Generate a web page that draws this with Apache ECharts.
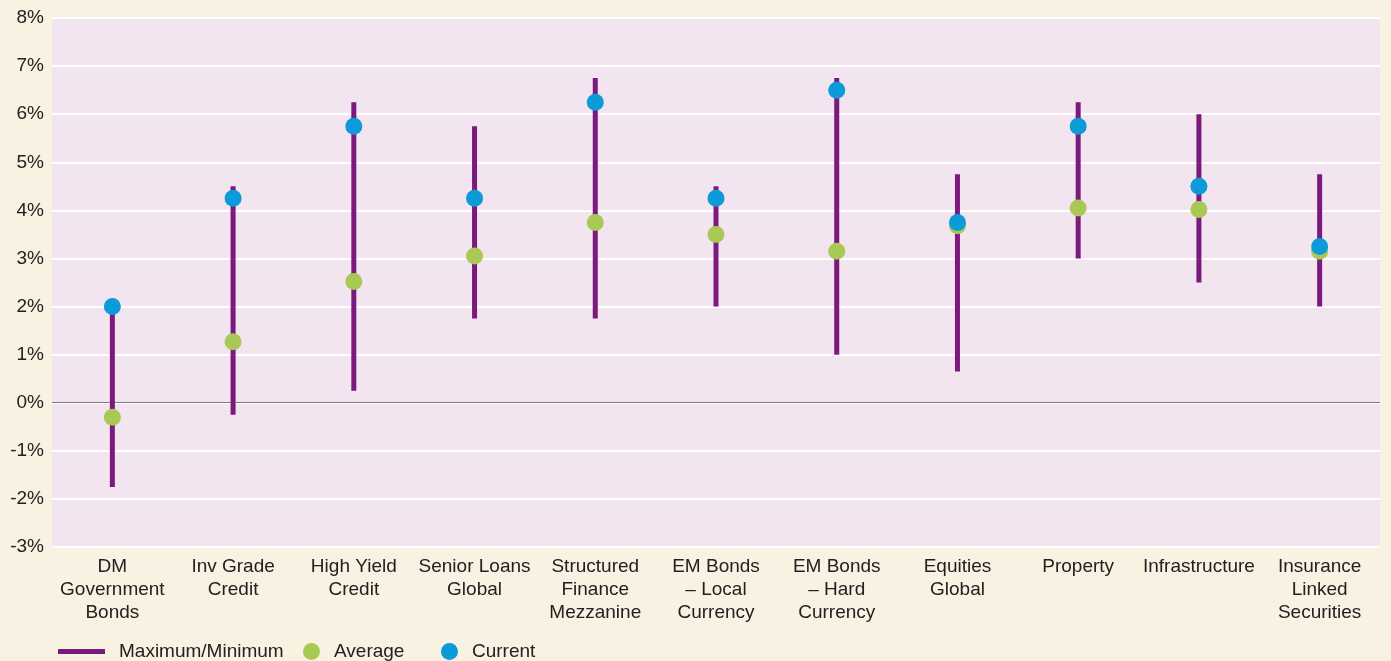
<!DOCTYPE html>
<html>
<head>
<meta charset="utf-8">
<script src="https://cdn.jsdelivr.net/npm/echarts@6/dist/echarts.min.js"></script>
<style>
  html, body { margin: 0; padding: 0; background: #f8f2e2; }
  #chart { width: 1391px; height: 661px; }
</style>
</head>
<body>
<div id="chart"></div>
<script>
const categories = [
  'DM\nGovernment\nBonds', 'Inv Grade\nCredit', 'High Yield\nCredit', 'Senior Loans\nGlobal',
  'Structured\nFinance\nMezzanine', 'EM Bonds\n– Local\nCurrency', 'EM Bonds\n– Hard\nCurrency',
  'Equities\nGlobal', 'Property', 'Infrastructure', 'Insurance\nLinked\nSecurities'
];
const minValues = [-1.75, -0.25, 0.25, 1.75, 1.75, 2.0, 1.0, 0.65, 3.0, 2.5, 2.0];
const maxValues = [2.0, 4.5, 6.25, 5.75, 6.75, 4.5, 6.75, 4.75, 6.25, 6.0, 4.75];
const averageValues = [-0.3, 1.27, 2.52, 3.05, 3.75, 3.5, 3.15, 3.68, 4.05, 4.02, 3.15];
const currentValues = [2.0, 4.25, 5.75, 4.25, 6.25, 4.25, 6.5, 3.75, 5.75, 4.5, 3.25];
const yTicks = { min: -3, max: 8, interval: 1 };

const purple = '#7a1a7d';
const green = '#a9c955';
const blue = '#0b9bd9';
const textColor = '#242021';
const font = 'Liberation Sans, Arial, sans-serif';

const chart = echarts.init(document.getElementById('chart'));

const option = {
  backgroundColor: '#f8f2e2',
  animation: false,
  textStyle: { fontFamily: font },
  grid: {
    left: 52, right: 11, top: 18, bottom: 114,
    show: true, backgroundColor: '#f2e5f0', borderWidth: 0
  },
  legend: [
    {
      left: 53, top: 637, itemWidth: 47, itemHeight: 5,
      textStyle: { fontSize: 19, color: textColor, fontFamily: font, padding: [0, 0, 0, 9] },
      data: [{ name: 'Maximum/Minimum', icon: 'rect' }]
    },
    {
      left: 298, top: 637, itemWidth: 17, itemHeight: 17,
      textStyle: { fontSize: 19, color: textColor, fontFamily: font, padding: [0, 0, 0, 9] },
      data: [{ name: 'Average', icon: 'circle' }]
    },
    {
      left: 436, top: 637, itemWidth: 17, itemHeight: 17,
      textStyle: { fontSize: 19, color: textColor, fontFamily: font, padding: [0, 0, 0, 9] },
      data: [{ name: 'Current', icon: 'circle' }]
    }
  ],
  xAxis: {
    type: 'category',
    data: categories,
    axisLine: { show: false, onZero: false },
    axisTick: { show: false },
    axisLabel: {
      interval: 0, fontSize: 19, lineHeight: 23, color: textColor,
      fontFamily: font, margin: 8
    }
  },
  yAxis: {
    type: 'value',
    min: yTicks.min, max: yTicks.max, interval: yTicks.interval,
    axisLine: { show: false },
    axisTick: { show: false },
    axisLabel: {
      formatter: '{value}%', fontSize: 19, color: textColor, fontFamily: font, margin: 8
    },
    splitLine: { lineStyle: { color: '#ffffff', width: 2 } }
  },
  series: [
    {
      name: 'Maximum/Minimum',
      type: 'custom',
      itemStyle: { color: purple },
      data: categories.map((c, i) => [i, minValues[i], maxValues[i]]),
      encode: { x: 0, y: [1, 2] },
      renderItem: function (params, api) {
        const top = api.coord([api.value(0), api.value(2)]);
        const bottom = api.coord([api.value(0), api.value(1)]);
        return {
          type: 'rect',
          shape: { x: top[0] - 2.5, y: top[1], width: 5, height: bottom[1] - top[1] },
          style: { fill: purple }
        };
      },
      markLine: {
        silent: true,
        symbol: 'none',
        label: { show: false },
        lineStyle: { color: '#7f7a80', width: 1, type: 'solid' },
        data: [{ yAxis: 0 }],
        z: 1
      },
      z: 2
    },
    {
      name: 'Average',
      type: 'scatter',
      symbol: 'circle',
      symbolSize: 17,
      itemStyle: { color: green, opacity: 1 },
      data: averageValues,
      z: 3
    },
    {
      name: 'Current',
      type: 'scatter',
      symbol: 'circle',
      symbolSize: 17,
      itemStyle: { color: blue, opacity: 1 },
      data: currentValues,
      z: 4
    }
  ]
};

chart.setOption(option);
</script>
</body>
</html>
